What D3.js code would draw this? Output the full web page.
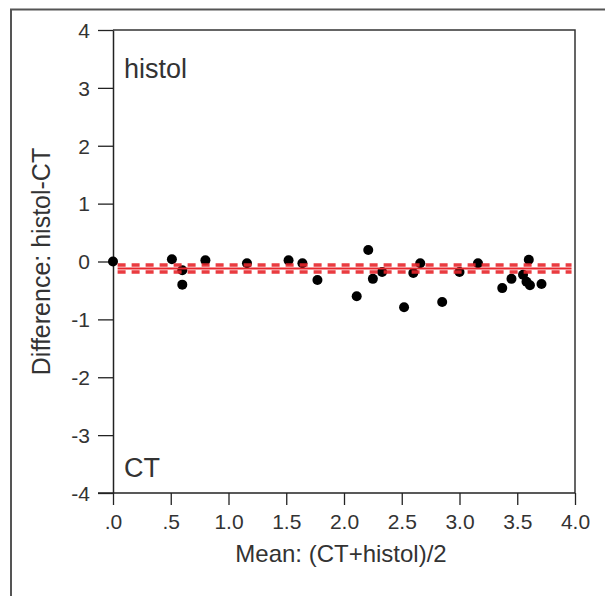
<!DOCTYPE html>
<html><head><meta charset="utf-8">
<script src="https://cdn.jsdelivr.net/npm/d3@7"></script>
<style>body{margin:0;background:#fff;} text{font-family:"Liberation Sans",Arial,sans-serif;}</style>
</head><body>
<svg id="c" width="605" height="596"></svg>
<script>
const meanX = [0.00,0.51,0.60,0.60,0.80,1.16,1.52,1.64,1.77,2.11,2.21,2.25,2.33,2.52,2.60,2.66,2.85,3.00,3.16,3.37,3.45,3.55,3.58,3.60,3.61,3.71];
const diffY = [0.00,0.04,-0.40,-0.15,0.02,-0.03,0.02,-0.03,-0.32,-0.60,0.20,-0.30,-0.18,-0.79,-0.20,-0.03,-0.70,-0.18,-0.03,-0.46,-0.30,-0.23,-0.35,0.03,-0.41,-0.39];
const meanDiff = -0.12;
const ciBounds = [-0.06, -0.18];
const xTicks = [0,0.5,1,1.5,2,2.5,3,3.5,4];
const xTickLabels = [".0",".5","1.0","1.5","2.0","2.5","3.0","3.5","4.0"];
const yTicks = [-4,-3,-2,-1,0,1,2,3,4];
const yTickLabels = ["-4","-3","-2","-1","0","1","2","3","4"];

const svg = d3.select("#c");
const L=113,R=575,T=30,B=493;
const x = d3.scaleLinear().domain([0,4]).range([L,R]);
const y = d3.scaleLinear().domain([-4,4]).range([B,T]);

// outer frame
svg.append("path").attr("d","M11,596V9.5H605").attr("fill","none").attr("stroke","#555").attr("stroke-width",2);

// box top/right
svg.append("path").attr("d",`M${L},${T}H${R}V${B}`).attr("fill","none").attr("stroke","#333").attr("stroke-width",1.5);

const gx = svg.append("g").attr("transform",`translate(0,${B})`)
  .call(d3.axisBottom(x).tickValues(xTicks).tickFormat((d,i)=>xTickLabels[i]).tickSize(12).tickPadding(9).tickSizeOuter(0));
gx.select(".domain").attr("d",`M${L-15},0H${R}`).attr("stroke","#222").attr("stroke-width",1.5);
const gy = svg.append("g").attr("transform",`translate(${L},0)`)
  .call(d3.axisLeft(y).tickValues(yTicks).tickFormat((d,i)=>yTickLabels[i]).tickSize(15).tickPadding(8).tickSizeOuter(0));
gy.select(".domain").attr("stroke","#222").attr("stroke-width",1.5);
[gx,gy].forEach(g=>{
  g.attr("font-size",null).attr("font-family",null);
  g.selectAll(".tick line").attr("stroke","#222").attr("stroke-width",1.3);
  g.selectAll(".tick text").attr("fill","#333").style("font-size","21px").style("font-family","Liberation Sans, Arial, sans-serif");
});
gy.selectAll(".tick text").attr("dy","0.35em");

// points
svg.append("g").selectAll("circle").data(meanX).join("circle")
  .attr("cx",(d)=>x(d)).attr("cy",(d,i)=>y(diffY[i])).attr("r",5).attr("fill","#000");

// lines
const red="#e8262c";
svg.append("line").attr("x1",x(0.04)).attr("x2",x(3.97)).attr("y1",y(meanDiff)).attr("y2",y(meanDiff))
  .attr("stroke",red).attr("stroke-width",2);
svg.selectAll("line.ci").data(ciBounds).join("line").attr("class","ci")
  .attr("x1",x(0.04)).attr("x2",x(3.97)).attr("y1",d=>y(d)).attr("y2",d=>y(d))
  .attr("stroke",red).attr("stroke-width",3.5).attr("stroke-dasharray","8,6").attr("opacity",0.9);

// annotations
svg.append("text").attr("x",124).attr("y",78).text("histol").attr("fill","#333").style("font-size","27px");
svg.append("text").attr("x",124).attr("y",477).text("CT").attr("fill","#333").style("font-size","27px");

svg.append("text").attr("x",341).attr("y",562).attr("text-anchor","middle").text("Mean: (CT+histol)/2")
  .attr("fill","#333").style("font-size","24px");
svg.append("text").attr("transform",`translate(50,${(T+B)/2}) rotate(-90)`).attr("text-anchor","middle")
  .text("Difference: histol-CT").attr("fill","#333").style("font-size","25px");
</script>
</body></html>
